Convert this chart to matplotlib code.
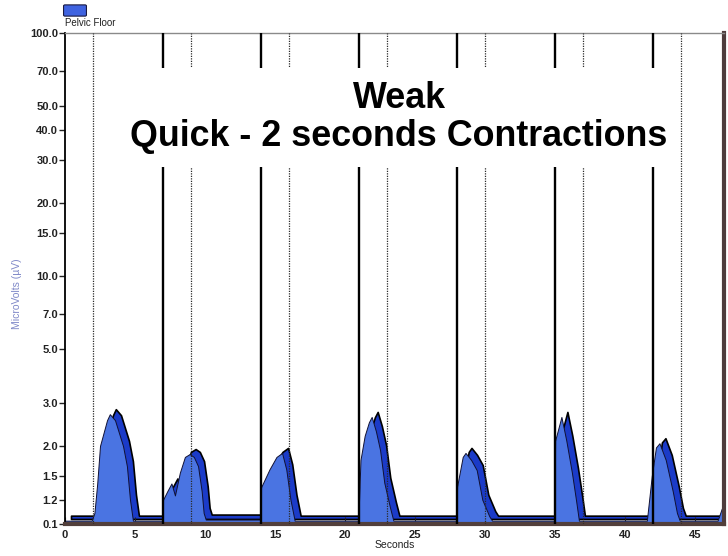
import numpy as np
import matplotlib
matplotlib.use("Agg")
import matplotlib.pyplot as plt
import matplotlib.transforms as mtransforms
from matplotlib.patches import FancyBboxPatch

plt.rcParams['font.family'] = ['Liberation Sans', 'DejaVu Sans']

# pelvic floor EMG trace (seconds, microvolts)
seconds = [0.0, 1.9, 2.1, 2.3, 2.5, 3.0, 3.2, 3.57, 4.14, 4.42, 4.64, 4.85,
           6.95, 7.0, 7.3, 7.6, 7.85, 8.2, 8.56, 8.9, 9.2, 9.5, 9.76, 9.9, 10.05,
           13.95, 14.0, 14.6, 15.1, 15.5, 15.8, 16.1, 16.4,
           20.95, 21.0, 21.1, 21.4, 21.7, 21.9, 22.2, 22.5, 22.8, 23.2, 23.45,
           27.95, 28.0, 28.4, 28.6, 29.0, 29.4, 29.8, 30.3, 30.5,
           34.95, 35.0, 35.45, 35.8, 36.2, 36.5, 36.7,
           41.55, 41.9, 42.2, 42.45, 42.9, 43.4, 43.7, 43.9, 46.6, 46.9, 47.1]
microvolts = [0.25, 0.25, 0.6, 1.4, 2.0, 2.55, 2.7, 2.55, 2.0, 1.65, 1.2, 0.25,
              0.25, 1.2, 1.3, 1.4, 1.25, 1.55, 1.8, 1.85, 1.8, 1.65, 1.3, 0.6, 0.3,
              0.3, 1.35, 1.6, 1.8, 1.87, 1.6, 1.2, 0.25,
              0.25, 1.2, 1.75, 2.2, 2.5, 2.63, 2.3, 1.92, 1.41, 0.87, 0.25,
              0.25, 1.36, 1.8, 1.87, 1.75, 1.59, 1.2, 0.45, 0.25,
              0.25, 2.1, 2.63, 2.1, 1.55, 1.15, 0.25,
              0.25, 1.5, 1.97, 2.05, 1.75, 1.3, 0.6, 0.25, 0.25, 0.8, 0.8]

work_starts = [7, 14, 21, 28, 35, 42]
rest_marks = [2, 9, 16, 23, 30, 37, 44]

y_ticks = [0.1, 1.2, 1.5, 2.0, 3.0, 5.0, 7.0, 10.0, 15.0, 20.0, 30.0, 40.0, 50.0, 70.0, 100.0]
x_ticks = list(range(0, 50, 5))

# log axis above 1.2, squeezed linear piece below it (0.1 sits at the floor)
L12 = np.log10(1.2)
K = 0.0907


def fwd(y):
    y = np.asarray(y, dtype=float)
    return np.where(y >= 1.2, np.log10(np.maximum(y, 1e-9)), L12 + (y - 1.2) * K)


def inv(u):
    u = np.asarray(u, dtype=float)
    return np.where(u >= L12, 10 ** np.minimum(u, 300), 1.2 + (u - L12) / K)


fig = plt.figure(figsize=(7.28, 5.56), dpi=100)
ax = fig.add_axes([0.0893, 0.0576, 0.905, 0.883])
ax.set_yscale('function', functions=(fwd, inv))
ax.set_xlim(0, 47.05)
ax.set_ylim(0.1, 100)

# 3D-ish ribbon: dark back face offset a few pixels, light front face on top
back = mtransforms.offset_copy(ax.transData, fig=fig, x=6, y=5, units='dots')
ax.fill_between(seconds, 0.1, microvolts, transform=back, facecolor='#1b3bc8',
                edgecolor='black', linewidth=1.2, zorder=1.5)
ax.fill_between(seconds, 0.1, microvolts, facecolor='#4a74e2',
                edgecolor='#111133', linewidth=0.7, zorder=1.6)

for t in work_starts:
    ax.axvline(t, color='black', linewidth=1.7, zorder=3)
for t in rest_marks:
    ax.axvline(t, color='#2a2a2a', linewidth=0.9, linestyle=(0, (1, 1)), zorder=3)

ax.text(0.507, 0.828, 'Weak\nQuick - 2 seconds Contractions', transform=ax.transAxes,
        ha='center', va='center', fontsize=25.8, fontweight='bold', linespacing=1.12,
        bbox=dict(facecolor='white', edgecolor='none', pad=9), zorder=4)

ax.set_yticks(y_ticks)
ax.set_yticklabels(['%.1f' % v for v in y_ticks])
ax.yaxis.set_minor_locator(matplotlib.ticker.NullLocator())
ax.set_xticks(x_ticks)
ax.tick_params(axis='y', direction='out', length=4, width=1, pad=1,
               labelsize=8, colors='#222222')
ax.tick_params(axis='x', direction='in', length=5, width=0.8, pad=4,
               labelsize=8, colors='#222222')
for lbl in ax.get_xticklabels() + ax.get_yticklabels():
    lbl.set_fontweight('bold')

ax.set_xlabel('Seconds', fontsize=7.5, labelpad=0, color='#222222')
ax.set_ylabel('MicroVolts (\u00b5V)', fontsize=7.5, color='#7f88c8')
ax.yaxis.set_label_coords(-0.065, 0.47)

ax.spines['left'].set_color('black')
ax.spines['left'].set_linewidth(1.3)
ax.spines['top'].set_color('#8a8a8a')
ax.spines['top'].set_linewidth(1.0)
ax.spines['right'].set_color('#4e3c3c')
ax.spines['right'].set_linewidth(3)
ax.spines['bottom'].set_color('#523f3b')
ax.spines['bottom'].set_linewidth(3)

# legend above the plot
fig.add_artist(FancyBboxPatch((65 / 728, 1 - 15 / 556), 20 / 728, 9 / 556,
                              boxstyle='round,pad=0.002', transform=fig.transFigure,
                              facecolor='#3f63e0', edgecolor='#1a1a40', linewidth=0.8))
fig.text(65 / 728, 1 - 23 / 556, 'Pelvic Floor', fontsize=7, va='center', ha='left',
         color='#222222')

fig.savefig('out.png', dpi=100)
